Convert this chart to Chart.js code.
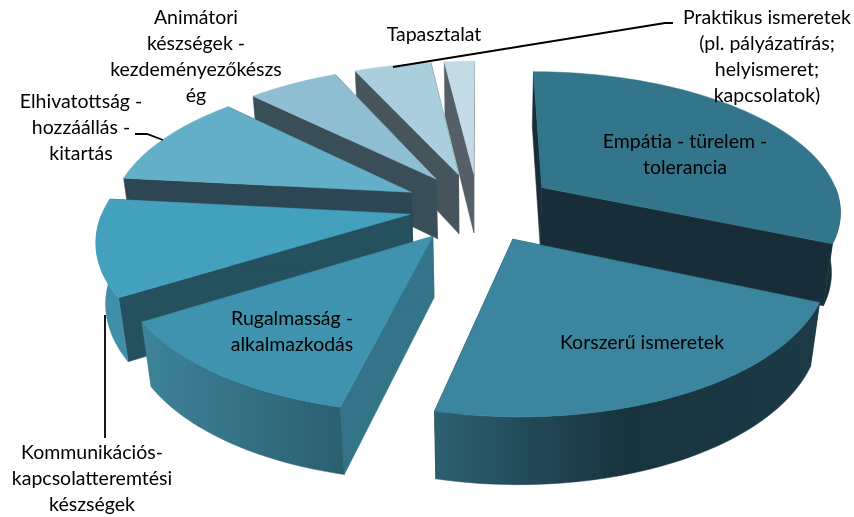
<!DOCTYPE html>
<html><head><meta charset="utf-8">
<style>html,body{margin:0;padding:0;background:#fff}#w{width:854px;height:517px;position:relative}</style>
<script src="https://cdn.jsdelivr.net/npm/chart.js@4"></script>
</head><body><div id="w"><canvas id="c"></canvas></div>
<script>
const categories=["Empátia - türelem - tolerancia","Korszerű ismeretek","Rugalmasság - alkalmazkodás","Kommunikációs-kapcsolatteremtési készségek","Elhivatottság - hozzáállás - kitartás","Animátori készségek - kezdeményezőkészség","Tapasztalat","Praktikus ismeretek (pl. pályázatírás; helyismeret; kapcsolatok)"];
const values=[31.5,22.2,12.4,10.6,10.7,5.8,4.9,1.9];
const explode=[52,50,50,46,50,50,50,50];
const rimScale=[1,1,1,1.02,1,1,1,1];
const topColors=["#33758A","#3B859E","#3F93AF","#44A1BD","#64AFC8","#8FBDD1","#A9CEDC","#C3DBE5"];
const sideColors=["#172E38","#172E38","#337488","#25515F","#2C4753","#3A4E57","#46545B","#555F66"];
const wallStops=[["#172E38","#172E38"],["#2D6072","#17333E","#1C3B47"],["#3E8399","#2B6070"],["#3F8FA9","#3F8FA9"],["#3F8FA9","#3F8FA9"],["#5A8A9E","#5A8A9E"],["#6A94A4","#6A94A4"],["#7A9AA8","#7A9AA8"]];
const paintOrder=[7,6,5,0,4,3,2,1];
const labelLines=[["Empátia - türelem -","tolerancia"],["Korszerű ismeretek"],["Rugalmasság -","alkalmazkodás"],["Kommunikációs-","kapcsolatteremtési","készségek"],["Elhivatottság -","hozzáállás -","kitartás"],["Animátori","készségek -","kezdeményezőkészs","ég"],["Tapasztalat"],["Praktikus ismeretek","(pl. pályázatírás;","helyismeret;","kapcsolatok)"]];
const labelAnchors=[[685,142],[642,343],[292,319],[92,453],[81,102],[196,18],[434,35],[767,18]];
const leaders=[[[105,315],[105,438]],[[135,134],[147,134],[163,140]],[[673,23],[665,23],[393,67]]];
const P={rx:1.5,ry:.696,h:62,p:.154,q:.025,lh:26,font:'19.5px Lato'};
const pie3d={id:'pie3d',
 beforeDatasetDraw(chart,args){
  const ctx=chart.ctx,meta=args.meta;
  paintOrder.forEach(i=>{
   const el=meta.data[i];const R=el.outerRadius,cx=el.x,cy=el.y,rs=rimScale[i];
   const e=el.options.offset/R,a0=el.startAngle,a1=el.endAngle,m=(a0+a1)/2;
   const ox=e*Math.cos(m),oy=e*Math.sin(m);
   const pr=(u,v,h)=>{const s=1/(1-P.p*v+P.q*h);return [cx+P.rx*R*u*s,cy+(P.ry*R*v+P.h*h)*s];};
   const arc=(b0,b1,h)=>{const n=Math.max(8,Math.ceil((b1-b0)*40)),o=[];for(let k=0;k<=n;k++){const a=b0+(b1-b0)*k/n;o.push(pr(ox+rs*Math.cos(a),oy+rs*Math.sin(a),h));}return o;};
   const top=arc(a0,a1,0),ap0=pr(ox,oy,0),ap1=pr(ox,oy,1),last=top.length-1;
   const b0=arc(a0,a0,1)[0],b1=arc(a1,a1,1)[0];
   const poly=(pts,fill)=>{ctx.beginPath();pts.forEach((p,j)=>j?ctx.lineTo(p[0],p[1]):ctx.moveTo(p[0],p[1]));ctx.closePath();ctx.fillStyle=fill;ctx.fill();ctx.strokeStyle=fill;ctx.lineWidth=.5;ctx.stroke();};
   poly([ap0,top[0],b0,ap1],sideColors[i]);
   poly([ap0,top[last],b1,ap1],sideColors[i]);
   const lo=Math.max(a0,0),hi=Math.min(a1,Math.PI);
   if(hi>lo){
    const wt=arc(lo,hi,0),wb=arc(lo,hi,1);
    const xs=wt.map(p=>p[0]);
    const g=ctx.createLinearGradient(Math.min(...xs),0,Math.max(...xs),0);
    wallStops[i].forEach((c,j,l)=>g.addColorStop(j/(l.length-1),c));
    poly(wt.concat(wb.slice().reverse()),g);
   }
   poly([ap0].concat(top),topColors[i]);
  });
  return false;
 },
 afterDraw(chart){
  const ctx=chart.ctx;ctx.save();
  ctx.strokeStyle='#000';ctx.lineWidth=1.8;
  leaders.forEach(l=>{ctx.beginPath();l.forEach((p,j)=>j?ctx.lineTo(p[0],p[1]):ctx.moveTo(p[0],p[1]));ctx.stroke();});
  ctx.fillStyle='#000';ctx.font=P.font;ctx.textAlign='center';ctx.textBaseline='middle';
  labelLines.forEach((ls,i)=>ls.forEach((t,j)=>ctx.fillText(t,labelAnchors[i][0],labelAnchors[i][1]+j*P.lh)));
  ctx.restore();
 }};
new Chart(document.getElementById('c'),{type:'pie',plugins:[pie3d],
 data:{labels:categories,datasets:[{data:values,offset:explode,backgroundColor:topColors,borderWidth:0}]},
 options:{responsive:true,maintainAspectRatio:false,animation:false,radius:200,
  layout:{padding:{left:102,bottom:103}},
  plugins:{legend:{display:false},tooltip:{enabled:false},title:{display:false}}}});
</script></body></html>
